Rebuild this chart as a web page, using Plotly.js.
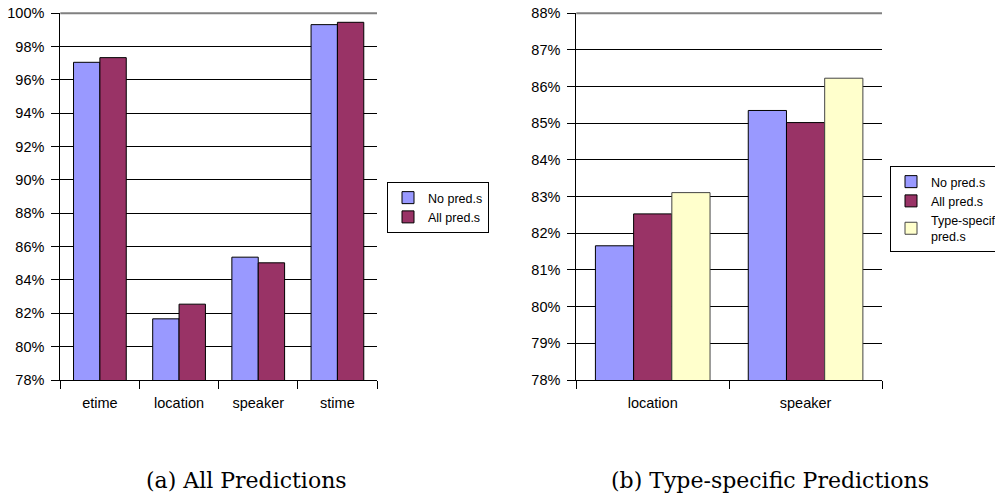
<!DOCTYPE html>
<html>
<head>
<meta charset="utf-8">
<script src="https://cdn.plot.ly/plotly-3.0.1.min.js"></script>
<style>
  html, body { margin: 0; padding: 0; background: #ffffff; }
  #chart { width: 995px; height: 495px; }
</style>
</head>
<body>
<div id="chart"></div>
<script>
// (a) accuracy for every entity type, with and without predicates
const typesAll = ['etime', 'location', 'speaker', 'stime'];
const allNoPred = [97.06, 81.67, 85.37, 99.32];
const allAllPred = [97.34, 82.55, 85.03, 99.46];

// (b) entity types that have type-specific predicates
const typesSpecific = ['location', 'speaker'];
const specNoPred = [81.66, 85.35];
const specAllPred = [82.53, 85.02];
const specTypePred = [83.11, 86.23];

// series names and y tick values
const seriesNames = ['No pred.s', 'All pred.s', 'Type-specific<br>pred.s'];
const yTicksA = [78, 80, 82, 84, 86, 88, 90, 92, 94, 96, 98, 100];
const yTicksB = [78, 79, 80, 81, 82, 83, 84, 85, 86, 87, 88];

const captionA = '(a) All Predictions';
const captionB = '(b) Type-specific Predictions';

const BLUE = '#9999FF';
const MAROON = '#993366';
const CREAM = '#FFFFCC';
const W = 995, H = 495;

const pctHover = '%{x}: %{y:.2f}%<extra>%{fullData.name}</extra>';

const traces = [
  {
    type: 'bar', name: seriesNames[0], x: typesAll, y: allNoPred,
    xaxis: 'x', yaxis: 'y', legend: 'legend',
    offset: -0.333, width: 0.333,
    marker: { color: BLUE, line: { color: '#000000', width: 1 } },
    hovertemplate: pctHover
  },
  {
    type: 'bar', name: seriesNames[1], x: typesAll, y: allAllPred,
    xaxis: 'x', yaxis: 'y', legend: 'legend',
    offset: 0, width: 0.333,
    marker: { color: MAROON, line: { color: '#000000', width: 1 } },
    hovertemplate: pctHover
  },
  {
    type: 'bar', name: seriesNames[0], x: typesSpecific, y: specNoPred,
    xaxis: 'x2', yaxis: 'y2', legend: 'legend2',
    marker: { color: BLUE, line: { color: '#000000', width: 1 } },
    hovertemplate: pctHover
  },
  {
    type: 'bar', name: seriesNames[1], x: typesSpecific, y: specAllPred,
    xaxis: 'x2', yaxis: 'y2', legend: 'legend2',
    marker: { color: MAROON, line: { color: '#000000', width: 1 } },
    hovertemplate: pctHover
  },
  {
    type: 'bar', name: seriesNames[2], x: typesSpecific, y: specTypePred,
    xaxis: 'x2', yaxis: 'y2', legend: 'legend2',
    marker: { color: CREAM, line: { color: '#444444', width: 1 } },
    hovertemplate: pctHover
  }
];

const tickFont = { family: 'Liberation Sans, Arial, sans-serif', size: 14.5, color: '#000000' };
const legendFont = { family: 'Liberation Sans, Arial, sans-serif', size: 12.5, color: '#000000' };
const captionFont = { family: 'DejaVu Serif, serif', size: 22, color: '#000000' };

const yDomain = [1 - 380 / H, 1 - 13.3 / H];

function xAxis(domain, anchor, n) {
  return {
    domain: domain, anchor: anchor, type: 'category', tickson: 'boundaries',
    range: [-0.5, n - 0.5],
    showgrid: false, zeroline: false,
    showline: true, linecolor: '#000000', linewidth: 1,
    ticks: 'outside', ticklen: 8, tickcolor: '#000000', tickwidth: 1,
    tickangle: 0, tickfont: tickFont, ticklabelstandoff: 10, fixedrange: true
  };
}

function yAxis(anchor, ticks) {
  return {
    domain: yDomain, anchor: anchor,
    range: [ticks[0], ticks[ticks.length - 1]],
    tickmode: 'array', tickvals: ticks, ticktext: ticks.map(v => v + '%'),
    showgrid: true, gridcolor: '#000000', gridwidth: 1, zeroline: false,
    showline: true, linecolor: '#000000', linewidth: 1,
    ticks: 'outside', ticklen: 8, tickcolor: '#000000', tickwidth: 1,
    tickfont: tickFont, ticklabelstandoff: 4, fixedrange: true
  };
}

const legendBox = {
  bgcolor: '#ffffff', bordercolor: '#000000', borderwidth: 1,
  font: legendFont, xref: 'paper', yref: 'paper',
  xanchor: 'left', yanchor: 'top', itemclick: false, itemdoubleclick: false,
  tracegroupgap: 0
};

const layout = {
  width: W, height: H,
  margin: { l: 0, r: 0, t: 0, b: 0, autoexpand: false },
  paper_bgcolor: '#ffffff', plot_bgcolor: '#ffffff',
  barmode: 'group', bargap: 0.25, bargroupgap: 0,
  showlegend: true,
  xaxis: xAxis([60.3 / W, 377 / W], 'y', typesAll.length),
  yaxis: yAxis('x', yTicksA),
  xaxis2: xAxis([576.3 / W, 882 / W], 'y2', typesSpecific.length),
  yaxis2: yAxis('x2', yTicksB),
  legend: Object.assign({}, legendBox, { x: 387 / W, y: 1 - 182 / H }),
  legend2: Object.assign({}, legendBox, { x: 890 / W, y: 1 - 166 / H }),
  shapes: [
    { type: 'line', xref: 'x domain', yref: 'y domain', x0: 0, x1: 1, y0: 1, y1: 1,
      line: { color: '#808080', width: 2 } },
    { type: 'line', xref: 'x2 domain', yref: 'y2 domain', x0: 0, x1: 1, y0: 1, y1: 1,
      line: { color: '#808080', width: 2 } }
  ],
  annotations: [
    { text: captionA, xref: 'paper', yref: 'paper', x: 246 / W, y: 1 - 480 / H,
      xanchor: 'center', yanchor: 'middle', showarrow: false, font: captionFont },
    { text: captionB, xref: 'paper', yref: 'paper', x: 770 / W, y: 1 - 480 / H,
      xanchor: 'center', yanchor: 'middle', showarrow: false, font: captionFont }
  ]
};

Plotly.newPlot('chart', traces, layout, { displayModeBar: false, responsive: false });
</script>
</body>
</html>
